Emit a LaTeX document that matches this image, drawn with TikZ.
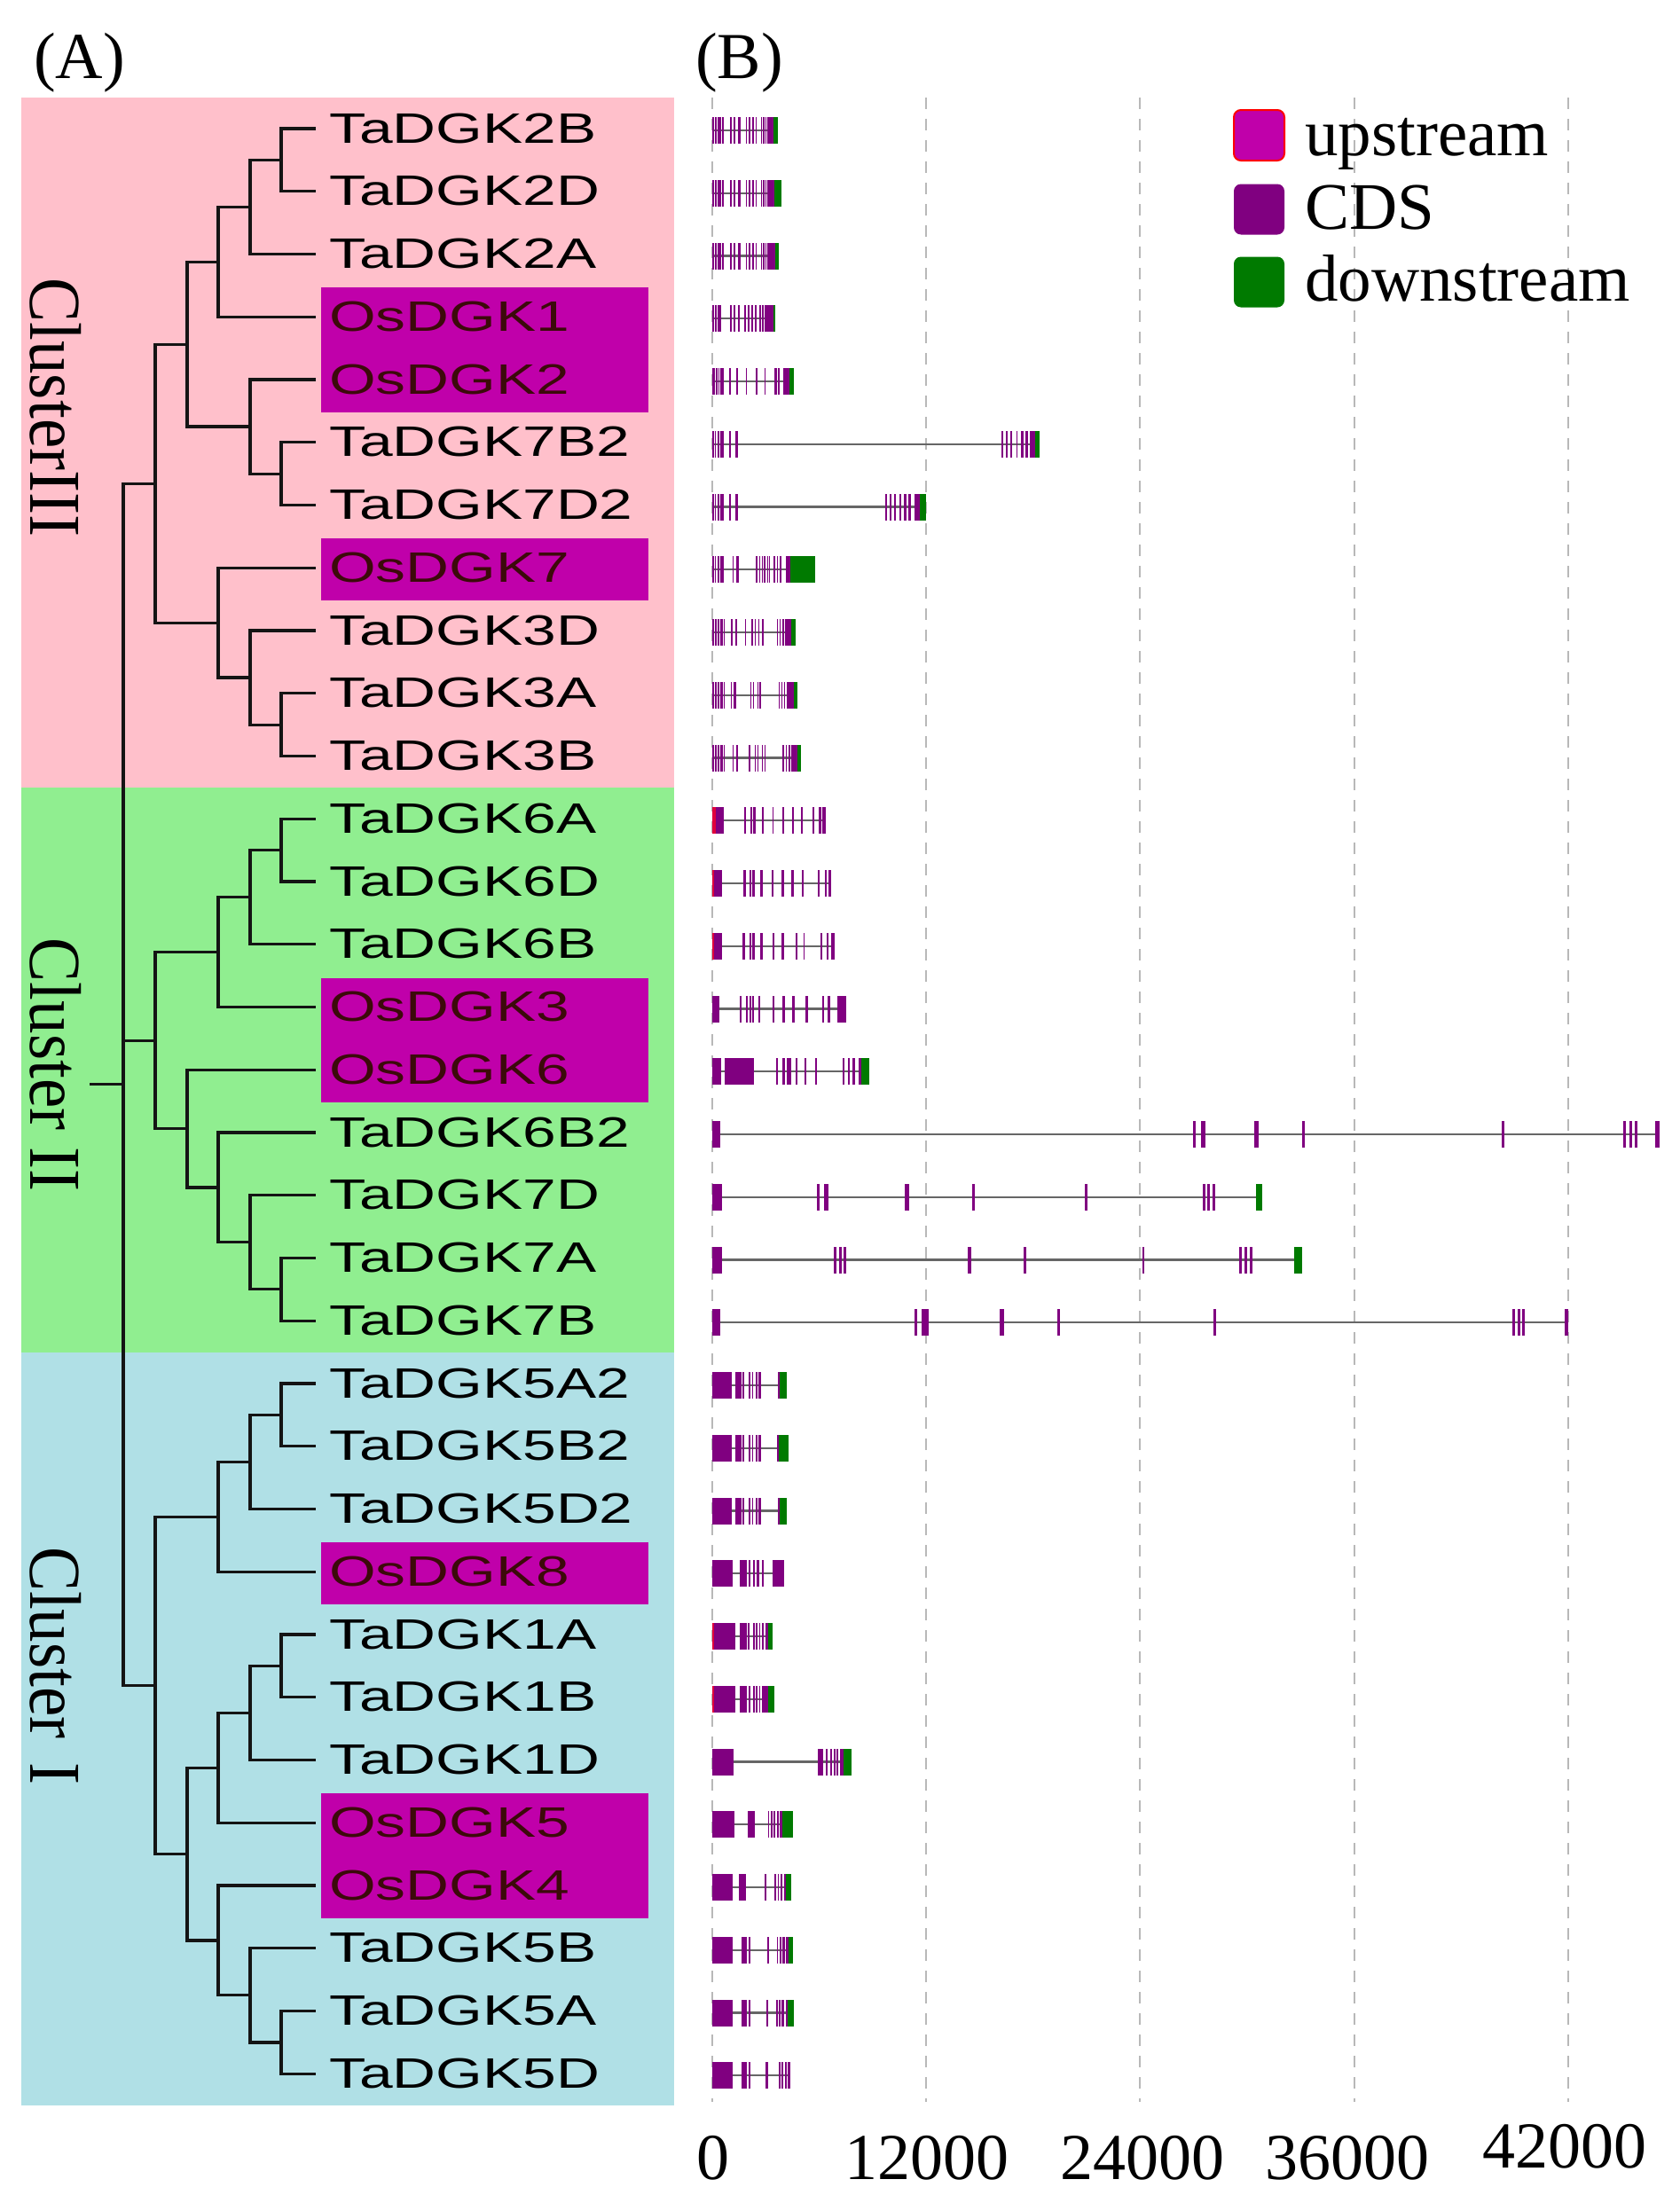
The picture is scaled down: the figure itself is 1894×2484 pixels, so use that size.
\documentclass[tikz,border=0pt]{standalone}
\usepackage{fontspec}
\setmainfont{Liberation Serif}
\newfontfamily\labfont[FakeStretch=1.41]{Liberation Sans}
\definecolor{pinkbg}{HTML}{FFC0CB}
\definecolor{greenbg}{HTML}{90EE90}
\definecolor{bluebg}{HTML}{B0E0E6}
\definecolor{oshl}{HTML}{C000AA}
\definecolor{osred}{HTML}{3C0A0A}
\definecolor{cdscol}{HTML}{800080}
\definecolor{dncol}{HTML}{007A00}
\definecolor{upcol}{HTML}{E0003C}
\definecolor{gridcol}{HTML}{B8B8B8}
\tikzset{
  tree/.style={line width=3.2pt, draw=black!92, line cap=rect, line join=miter},
  lab/.style={font=\labfont\fontsize{48}{50}\selectfont, anchor=base west, inner sep=0pt},
  oslab/.style={lab, text=osred},
  clab/.style={font=\fontsize{75}{80}\selectfont, rotate=-90, inner sep=0pt},
  plab/.style={font=\fontsize{74}{80}\selectfont, anchor=base west, inner sep=0pt},
  axlab/.style={font=\fontsize{74}{80}\selectfont, anchor=base, inner sep=0pt},
  legtxt/.style={font=\fontsize{75}{80}\selectfont, anchor=base west, inner sep=0pt},
  legsq/.style={minimum width=57pt, minimum height=57pt, inner sep=0pt, rounded corners=8pt},
  intron/.style={draw=black!60, line width=2.2pt},
  cds/.style={fill=cdscol},
  dstream/.style={fill=dncol},
  ustream/.style={fill=upcol},
  gridline/.style={draw=gridcol, line width=2pt, dash pattern=on 13pt off 11pt}
}
\newcommand\gmodel[3]{%
  \draw[intron] (803,#1) -- ({803+#2},#1);
  \foreach \ea/\eb in {#3}{\fill[cds] ({803+\ea},{#1-15}) rectangle ({803+\eb},{#1+15});}}
\newcommand\gdown[3]{\fill[dstream] ({803+#2},{#1-15}) rectangle ({803+#3},{#1+15});}
\newcommand\gupst[3]{\fill[ustream] ({803+#2},{#1-15}) rectangle ({803+#3},{#1+15});}
\begin{document}
\begin{tikzpicture}[x=1pt,y=-1pt]
\useasboundingbox (0,0) rectangle (1894,2484);
\fill[white] (0,0) rectangle (1894,2484);
% ---------- panel A backgrounds
\fill[pinkbg] (24,109.6) rectangle (760,887.9);
\fill[greenbg] (24,887.9) rectangle (760,1524.6);
\fill[bluebg] (24,1524.6) rectangle (760,2373.6);
% highlight boxes
\fill[oshl] (362,324.25) rectangle (731,465);
\fill[oshl] (362,607.25) rectangle (731,677.25);
\fill[oshl] (362,1102.5) rectangle (731,1243.25);
\fill[oshl] (362,1739.25) rectangle (731,1809.25);
\fill[oshl] (362,2022.25) rectangle (731,2163);
% ---------- leaves
\foreach \i in {1,...,32}{
  \pgfmathsetmacro\yy{145+(\i-1)*70.75}
  \coordinate (l\i) at (354,\yy);
}
% ---------- internal nodes
\coordinate (a1) at (317,180.375);
\coordinate (a2) at (282,233.44);
\coordinate (a3) at (246,295.34);
\coordinate (a4) at (317,534.125);
\coordinate (a5) at (282,481.06);
\coordinate (a6) at (211,388.2);
\coordinate (a7) at (317,817.125);
\coordinate (a8) at (282,764.06);
\coordinate (a9) at (246,702.16);
\coordinate (a10) at (175,545.18);
\coordinate (b1) at (317,958.625);
\coordinate (b2) at (282,1011.69);
\coordinate (b3) at (246,1073.59);
\coordinate (b4) at (317,1453.875);
\coordinate (b5) at (282,1400.81);
\coordinate (b6) at (246,1338.91);
\coordinate (b7) at (211,1272.58);
\coordinate (b8) at (175,1173.09);
\coordinate (c1) at (317,1595.375);
\coordinate (c2) at (282,1648.44);
\coordinate (c3) at (246,1710.34);
\coordinate (c4) at (317,1878.375);
\coordinate (c5) at (282,1931.44);
\coordinate (c6) at (246,1993.34);
\coordinate (c7) at (317,2302.875);
\coordinate (c8) at (282,2249.81);
\coordinate (c9) at (246,2187.91);
\coordinate (c10) at (211,2090.63);
\coordinate (c11) at (175,1900.48);
\coordinate (r0) at (139,1222.83);
\coordinate (stub) at (103,1222.83);
% ---------- tree
\draw[tree] (a1) |- (l1) (a1) |- (l2);
\draw[tree] (a2) |- (a1) (a2) |- (l3);
\draw[tree] (a3) |- (a2) (a3) |- (l4);
\draw[tree] (a4) |- (l6) (a4) |- (l7);
\draw[tree] (a5) |- (l5) (a5) |- (a4);
\draw[tree] (a6) |- (a3) (a6) |- (a5);
\draw[tree] (a7) |- (l10) (a7) |- (l11);
\draw[tree] (a8) |- (l9) (a8) |- (a7);
\draw[tree] (a9) |- (l8) (a9) |- (a8);
\draw[tree] (a10) |- (a6) (a10) |- (a9);
\draw[tree] (b1) |- (l12) (b1) |- (l13);
\draw[tree] (b2) |- (b1) (b2) |- (l14);
\draw[tree] (b3) |- (b2) (b3) |- (l15);
\draw[tree] (b4) |- (l19) (b4) |- (l20);
\draw[tree] (b5) |- (l18) (b5) |- (b4);
\draw[tree] (b6) |- (l17) (b6) |- (b5);
\draw[tree] (b7) |- (l16) (b7) |- (b6);
\draw[tree] (b8) |- (b3) (b8) |- (b7);
\draw[tree] (c1) |- (l21) (c1) |- (l22);
\draw[tree] (c2) |- (c1) (c2) |- (l23);
\draw[tree] (c3) |- (c2) (c3) |- (l24);
\draw[tree] (c4) |- (l25) (c4) |- (l26);
\draw[tree] (c5) |- (c4) (c5) |- (l27);
\draw[tree] (c6) |- (c5) (c6) |- (l28);
\draw[tree] (c7) |- (l31) (c7) |- (l32);
\draw[tree] (c8) |- (l30) (c8) |- (c7);
\draw[tree] (c9) |- (l29) (c9) |- (c8);
\draw[tree] (c10) |- (c6) (c10) |- (c9);
\draw[tree] (c11) |- (c3) (c11) |- (c10);
\draw[tree] (r0) |- (a10) (r0) |- (b8) (r0) |- (c11);
\draw[tree] (stub) -- (r0);
% ---------- leaf labels
\node[lab] (t1) at (371,161) {TaDGK2B};
\node[lab] (t2) at (371,231.75) {TaDGK2D};
\node[lab] (t3) at (371,302.5) {TaDGK2A};
\node[oslab] (t4) at (371,373.25) {OsDGK1};
\node[oslab] (t5) at (371,444) {OsDGK2};
\node[lab] (t6) at (371,514.75) {TaDGK7B2};
\node[lab] (t7) at (371,585.5) {TaDGK7D2};
\node[oslab] (t8) at (371,656.25) {OsDGK7};
\node[lab] (t9) at (371,727) {TaDGK3D};
\node[lab] (t10) at (371,797.75) {TaDGK3A};
\node[lab] (t11) at (371,868.5) {TaDGK3B};
\node[lab] (t12) at (371,939.25) {TaDGK6A};
\node[lab] (t13) at (371,1010) {TaDGK6D};
\node[lab] (t14) at (371,1080.75) {TaDGK6B};
\node[oslab] (t15) at (371,1151.5) {OsDGK3};
\node[oslab] (t16) at (371,1222.25) {OsDGK6};
\node[lab] (t17) at (371,1293) {TaDGK6B2};
\node[lab] (t18) at (371,1363.75) {TaDGK7D};
\node[lab] (t19) at (371,1434.5) {TaDGK7A};
\node[lab] (t20) at (371,1505.25) {TaDGK7B};
\node[lab] (t21) at (371,1576) {TaDGK5A2};
\node[lab] (t22) at (371,1646.75) {TaDGK5B2};
\node[lab] (t23) at (371,1717.5) {TaDGK5D2};
\node[oslab] (t24) at (371,1788.25) {OsDGK8};
\node[lab] (t25) at (371,1859) {TaDGK1A};
\node[lab] (t26) at (371,1929.75) {TaDGK1B};
\node[lab] (t27) at (371,2000.5) {TaDGK1D};
\node[oslab] (t28) at (371,2071.25) {OsDGK5};
\node[oslab] (t29) at (371,2142) {OsDGK4};
\node[lab] (t30) at (371,2212.75) {TaDGK5B};
\node[lab] (t31) at (371,2283.5) {TaDGK5A};
\node[lab] (t32) at (371,2354.25) {TaDGK5D};
% ---------- cluster labels
\node[clab] (cl3) at (63,459.4) {\scalebox{1}[1.1]{ClusterIII}};
\node[clab] (cl2) at (63,1200.5) {\scalebox{1}[1.1]{Cluster II}};
\node[clab] (cl1) at (63,1878) {\scalebox{1}[1.1]{Cluster\hspace{0.35em}I}};
% ---------- panel labels
\node[plab] (pA) at (38,88) {(A)};
\node[plab] (pB) at (784,88) {(B)};
% ---------- grid
\foreach \k in {0,...,4}{
  \draw[gridline] ({803+\k*241.2},110) -- ({803+\k*241.2},2370);
}
% ---------- gene models
\gmodel{147}{73.7}{0/2,3.3/5,6/7.5,8/10,11/12.7,20.3/21.7,24.3/25.7,29.3/31.7,37.7/39.3,41/42.7,45/46.7,48.7/50.3,54.5/56,57/58.5,59.5/61,62/69.3}
\gdown{147}{69.3}{73.7}
\gmodel{217.75}{77.7}{0/2,3.3/5,6/7.5,8/10,11/12.7,20.3/21.7,24.3/25.7,29.3/31.7,37.7/39.3,41/42.7,45/46.7,48.7/50.3,54.5/56,57/58.5,59.5/61,62/69.7}
\gdown{217.75}{69.7}{77.7}
\gmodel{288.5}{75.3}{0/2,3.3/5,6/7.5,8/10,11/12.7,20.3/21.7,24.3/25.7,29.3/31.7,37.7/39.3,41/42.7,45/46.7,48.7/50.3,54.5/56,57/58.5,59.5/61,62/71}
\gdown{288.5}{71}{75.3}
\gmodel{359.25}{71}{0/2,3.3/5,6/7.5,8/10,20.3/21.7,24.3/25.7,29.3/31,36/37.5,40/41.7,44/45.7,48/49.7,53/55,56/58,59/69.3}
\gdown{359.25}{69.3}{71}
\gmodel{430}{91.7}{0/2.7,3.7/5.5,6.5/7.7,9.3/12.7,19.3/21,27/29.3,37.7/39.3,49.3/51,58.7/60.3,70.3/72.7,73.7/76,80/86.7}
\gdown{430}{86.7}{91.7}
\gmodel{500.75}{368.7}{0/2,2.7/4.3,6/7.7,8.7/12.7,19.3/21,26/29.3,326/327.7,331/332.7,336/337.7,342.7/344.3,347.7/351,352.7/356,358.3/364.3}
\gdown{500.75}{364.3}{368.7}
\gmodel{571.5}{241}{0/2,2.7/4.3,6/7.7,8.7/12.7,19.3/21,26/29.3,195/196.7,200/201.7,205/206.7,211/212.7,216/219,221/224,227.7/234.3}
\gdown{571.5}{234.3}{241}
\gmodel{642.25}{116}{0/2,2.7/4.3,6/7.7,8.7/12.7,22.7/24.3,27/30.3,49.3/50.7,52.7/54,56/57.3,58.3/59.7,61.7/63,63.7/65,69.3/70.7,72.7/74,76.3/77.7,82.7/87.7}
\gdown{642.25}{87.7}{116}
\gmodel{713}{93.7}{0/2,3/5,6.3/8,9.3/11.7,12.7/14.3,21/23,25.7/27.7,37/38.3,44.3/45.7,48/49.3,52/53.3,56.3/57.7,72.7/74,76/77.3,79.3/80.7,82/89.3}
\gdown{713}{89.3}{93.7}
\gmodel{783.75}{96}{0/2,3/5,6.3/8,9.3/11.7,12.7/14.3,21/22.3,24.3/26.7,42.7/44,46/47.3,50.7/52.3,53.3/54.7,75/76.3,78/79.3,81/82.3,84/92}
\gdown{783.75}{92}{96}
\gmodel{854.5}{100}{0/2,3/5,6.3/8,9.3/11.7,12.7/14.3,22.7/24,27/29.3,41/42.7,47.7/49.3,50.7/51.7,56/57.3,59/60,79.3/80.7,82.7/84,86/88.3,89.3/96}
\gdown{854.5}{96}{100}
\gmodel{925.25}{128.3}{4.3/12.7,36/38.3,42.7/45,46/49.3,56/57.7,67.7/69.3,79.3/81,90.3/92,100.3/102,112.7/115,120.3/122.7,124.3/128.3}
\gupst{925.25}{0}{4.3}
\gmodel{996}{134.3}{2/11,35/37.7,41.7/44.3,45/47.7,54.3/56.7,67/69.3,78.3/81,89.3/91.7,101/102.7,118.7/121,127/129.3,131/134.3}
\gupst{996}{0}{2}
\gmodel{1066.75}{137.7}{2/11,34.3/37,42/44.3,45/48.3,54.3/56.7,67.7/70,78.3/81,93.7/96,102.7/104.3,121.7/124.3,128.7/131,133.7/137.7}
\gupst{1066.75}{0}{2}
\gmodel{1137.5}{151}{0/8.3,31/33.3,37.7/40,42/44.3,45.3/47,51.7/54.3,68.3/70.3,79.3/81.7,90.3/92.7,105/107.7,123.7/126,130.3/132.7,141/151}
\gmodel{1208.25}{176.7}{0/10,14.3/46.7,71.7/74.3,79.3/82,84/86.5,87/89.3,93.7/96,103.7/106,116/118.3,147/149.3,152.7/155,158.3/161,165/168}
\gdown{1208.25}{168}{176.7}
\gmodel{1279}{1068}{0/9,542/545,551/556,611/616,665/668,890/893,1027/1030,1034/1037,1039.5/1042.5,1063/1068}
\gmodel{1349.75}{620}{0/11,118/121,126/131,217/222,293/296,420/423,552.5/555.5,558/561,563.5/567}
\gdown{1349.75}{613}{620}
\gmodel{1420.5}{665}{0/11,137/140,142.5/145.5,147.5/150.5,287.5/292,351/354,485/487,594/597,600/603,606/609}
\gdown{1420.5}{655.5}{665}
\gmodel{1491.25}{964.5}{0/9,228/231,236/243.5,324/329.4,389/392,565/567.5,902/905,907.7/910.7,913/916,961/964.5}
\gmodel{1562}{84.3}{0/22,26/33,34/36,41/43,44.5/46,49/51,52/54.5,73.7/76}
\gdown{1562}{76}{84.3}
\gmodel{1632.75}{86}{0/22,26/33,34/36,41/43,44.5/46,49/51,52/54.5,73/75.3}
\gdown{1632.75}{75.3}{86}
\gmodel{1703.5}{84.3}{0/22,26/33,34/36,41/43,44.5/46,49/51,52/54.5,73.7/76}
\gdown{1703.5}{76}{84.3}
\gmodel{1774.25}{81}{0/22.7,31/39.3,41/42.7,46/47.7,50.3/52.7,56/57.7,67.7/81}
\gmodel{1845}{67.7}{1.7/26,31/39.3,40.3/42,46/47.7,49.3/51,52.7/54.3,56/57.7,60.3/62.7}
\gupst{1845}{0}{1.7}
\gdown{1845}{62.7}{67.7}
\gmodel{1915.75}{70}{1.7/26,31/39.3,41/42.7,46/47.7,49.3/51,52.7/54.3,56/62.7}
\gupst{1915.75}{0}{1.7}
\gdown{1915.75}{62.7}{70}
\gmodel{1986.5}{156.7}{0/23.7,119.3/125,127.7/130.3,133.3/135,137/138.7,140.3/142,143.7/147.7}
\gdown{1986.5}{147.7}{156.7}
\gmodel{2057.25}{91}{0/25,40.3/48.3,62.7/64.3,66/67.7,69.3/71,72.7/75,76/79.3}
\gdown{2057.25}{79.3}{91}
\gmodel{2128}{89.3}{0/22.7,30.3/37.7,59.3/61,70.3/72,73.7/75.3,77/79.3,81/82.7}
\gdown{2128}{82.7}{89.3}
\gmodel{2198.75}{91}{0/22.7,32.7/39.3,41/42.7,61.7/63.7,72.7/74.3,76/77.7,79.3/81.7,83.3/86}
\gdown{2198.75}{86}{91}
\gmodel{2269.5}{91.7}{0/22.7,32.7/39.3,41/42.7,61/63,72/73.7,75/77,78.3/81,82.7/85}
\gdown{2269.5}{85}{91.7}
\gmodel{2340.25}{87.7}{0/22.7,32.7/39.3,41/42.7,60.3/62.7,75/77,78.3/80.3,81.7/84,85/87.7}
% ---------- legend
\node[legsq, fill=oshl, draw=red, line width=2pt] (lu) at (1419.5,152.5) {};
\node[legsq, fill=cdscol] (lc) at (1419.5,236) {};
\node[legsq, fill=dncol] (ld) at (1419.5,318) {};
\node[legtxt] (tu) at (1471,175) {upstream};
\node[legtxt] (tc) at (1471,258) {CDS};
\node[legtxt] (td) at (1471,339) {downstream};
% ---------- axis labels
\node[axlab] (x0) at (804,2457) {0};
\node[axlab] (x1) at (1044.5,2457) {12000};
\node[axlab] (x2) at (1288,2457) {24000};
\node[axlab] (x3) at (1519,2457) {36000};
\node[axlab] (x4) at (1764,2444.5) {42000};
\end{tikzpicture}
\end{document}
